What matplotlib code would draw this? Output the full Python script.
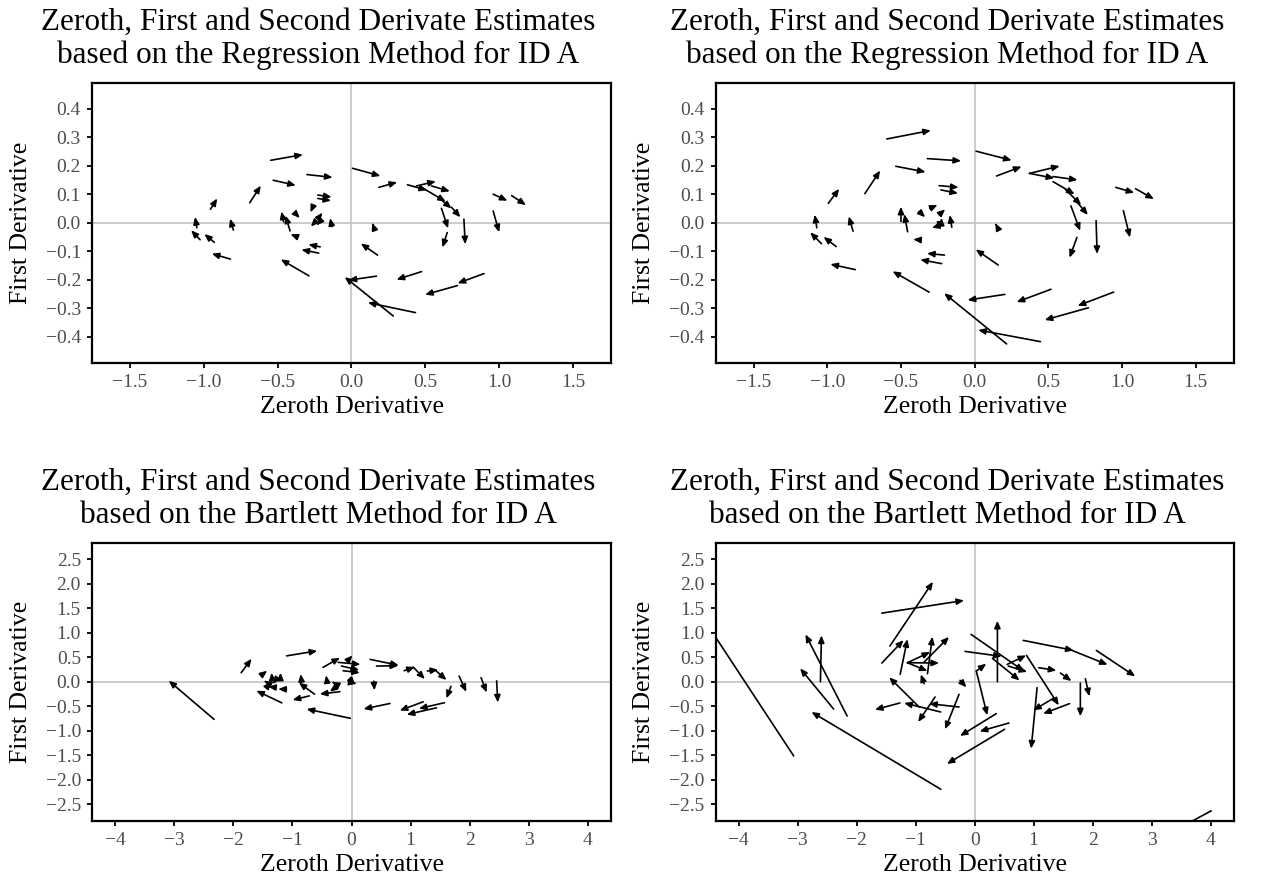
import matplotlib
matplotlib.use("Agg")
import matplotlib.pyplot as plt
from matplotlib.patches import FancyArrowPatch

plt.rcParams['font.family'] = ['Liberation Serif', 'DejaVu Serif']

# ---------------- data: arrow tails (x0, y0) and heads (x1, y1) ----------------
# Regression method, left panel
reg1_x0 = [-0.547, -0.302, -0.530, -0.689, -0.955, -1.047, -1.025, -0.929, -0.820, -0.800,
           -0.288, -0.228, -0.228, -0.212, -0.222, -0.460, -0.416, -0.372, -0.374, -0.268,
           -0.214, -0.133, -0.240, -0.220, 0.007, 0.185, 0.379, 0.440, 0.542, 0.497,
           0.609, 0.677, 0.609, 0.648, 0.761, 0.959, 1.084, 0.959, 0.176, 0.145,
           0.169, 0.474, 0.897, 0.718, 0.433, 0.283]
reg1_y0 = [0.219, 0.169, 0.149, 0.070, 0.047, -0.018, -0.060, -0.069, -0.128, -0.026,
           -0.187, 0.097, 0.085, -0.085, -0.107, 0.003, -0.029, -0.049, 0.029, 0.048,
           0.023, -0.014, 0.006, 0.000, 0.191, 0.124, 0.133, 0.129, 0.129, 0.117,
           0.080, 0.054, 0.050, -0.035, 0.012, 0.100, 0.095, 0.041, -0.114, -0.008,
           -0.188, -0.172, -0.179, -0.221, -0.316, -0.328]
reg1_x1 = [-0.329, -0.128, -0.377, -0.614, -0.909, -1.059, -1.086, -0.996, -0.946, -0.822,
           -0.479, -0.135, -0.138, -0.292, -0.339, -0.474, -0.447, -0.413, -0.350, -0.278,
           -0.196, -0.145, -0.275, -0.238, 0.196, 0.309, 0.512, 0.571, 0.666, 0.638,
           0.677, 0.738, 0.654, 0.616, 0.770, 1.056, 1.181, 1.000, 0.063, 0.140,
           -0.020, 0.305, 0.718, 0.498, 0.111, -0.046]
reg1_y1 = [0.239, 0.159, 0.131, 0.130, 0.085, 0.020, -0.027, -0.040, -0.109, 0.014,
           -0.129, 0.090, 0.077, -0.077, -0.095, 0.039, 0.025, -0.041, 0.016, 0.036,
           0.035, 0.016, -0.014, -0.010, 0.164, 0.142, 0.114, 0.145, 0.110, 0.074,
           0.050, 0.019, -0.020, -0.087, -0.076, 0.077, 0.062, -0.034, -0.073, -0.001,
           -0.202, -0.200, -0.213, -0.253, -0.281, -0.191]

# Regression method, right panel
reg2_x0 = [-0.596, -0.321, -0.535, -0.745, -0.993, -1.071, -1.039, -0.940, -0.810, -0.825,
           -0.309, -0.241, -0.229, -0.205, -0.224, -0.363, -0.500, -0.455, -0.376, -0.304,
           -0.230, -0.155, -0.250, -0.236, -0.226, 0.010, 0.149, 0.372, 0.372, 0.532,
           0.532, 0.615, 0.682, 0.653, 0.694, 0.824, 0.957, 1.092, 1.009, 0.160,
           0.146, 0.205, 0.518, 0.943, 0.772, 0.446, 0.217]
reg2_y0 = [0.294, 0.225, 0.198, 0.102, 0.068, -0.018, -0.074, -0.084, -0.165, -0.030,
           -0.244, 0.130, 0.115, -0.114, -0.144, -0.061, 0.004, -0.032, 0.039, 0.050,
           0.033, -0.016, -0.012, -0.004, -0.002, 0.251, 0.164, 0.173, 0.173, 0.162,
           0.144, 0.117, 0.080, 0.059, -0.052, 0.007, 0.124, 0.119, 0.042, -0.149,
           -0.008, -0.252, -0.234, -0.244, -0.299, -0.418, -0.426]
reg2_x1 = [-0.297, -0.092, -0.333, -0.641, -0.919, -1.085, -1.116, -1.025, -0.979, -0.854,
           -0.557, -0.109, -0.113, -0.323, -0.369, -0.417, -0.500, -0.477, -0.336, -0.252,
           -0.200, -0.169, -0.290, -0.236, -0.225, 0.251, 0.318, 0.577, 0.540, 0.698,
           0.678, 0.723, 0.768, 0.716, 0.644, 0.831, 1.083, 1.216, 1.054, 0.007,
           0.140, -0.048, 0.285, 0.699, 0.475, 0.024, -0.207]
reg2_y1 = [0.324, 0.217, 0.178, 0.183, 0.119, 0.028, -0.034, -0.050, -0.146, 0.022,
           -0.171, 0.124, 0.103, -0.108, -0.130, -0.059, 0.056, 0.030, 0.019, 0.062,
           0.047, 0.027, -0.018, -0.025, 0.017, 0.219, 0.197, 0.199, 0.156, 0.150,
           0.100, 0.062, 0.027, -0.029, -0.123, -0.110, 0.105, 0.083, -0.052, -0.094,
           -0.002, -0.272, -0.279, -0.292, -0.342, -0.377, -0.248]

# Bartlett method, left panel
bart1_x0 = [-2.325, -1.866, -1.099, -0.481, -0.020, -1.180, -0.715, -0.626, -0.848, 0.650,
            1.212, 1.574, 1.437, 0.315, 0.423, 0.891, 1.043, 1.285, 1.409, 1.682,
            1.820, 2.192, 2.455, 0.378, -1.522, -1.342, -1.201, -1.297, -1.099, -1.450,
            -1.380, -1.300, -0.225, -0.169, -0.141, -0.056, 0.040, -0.197, -0.254, -0.420,
            -0.300, 0.030]
bart1_y0 = [-0.769, 0.184, 0.528, 0.293, -0.748, -0.432, -0.290, -0.255, 0.027, -0.445,
            -0.410, -0.429, -0.534, 0.456, 0.320, 0.224, 0.300, 0.218, 0.245, -0.095,
            0.116, 0.082, 0.017, 0.010, 0.136, 0.034, 0.034, -0.116, -0.156, 0.000,
            -0.030, 0.000, 0.395, 0.320, 0.224, 0.442, -0.030, -0.204, -0.102, 0.050,
            -0.020, -0.020]
bart1_x1 = [-3.092, -1.691, -0.580, -0.195, -0.760, -1.610, -0.997, -0.890, -0.860, 0.204,
            0.816, 1.140, 0.933, 0.800, 0.789, 1.071, 1.240, 1.466, 1.607, 1.606,
            1.942, 2.286, 2.475, 0.388, -1.426, -1.353, -1.201, -1.409, -1.240, -1.480,
            -1.360, -1.330, 0.152, 0.130, 0.141, 0.017, 0.085, -0.536, -0.366, -0.430,
            -0.330, 0.060]
bart1_y1 = [0.020, 0.469, 0.630, 0.490, -0.558, -0.184, -0.374, -0.020, 0.156, -0.558,
            -0.590, -0.550, -0.672, 0.335, 0.327, 0.300, 0.054, 0.245, 0.034, -0.340,
            -0.208, -0.221, -0.425, -0.177, 0.224, 0.184, 0.184, -0.102, -0.150, 0.020,
            0.000, -0.050, 0.354, 0.238, 0.184, 0.537, -0.040, -0.252, -0.204, 0.130,
            0.000, -0.060]

# Bartlett method, right panel
bart2_x0 = [-3.068, 4.010, -0.574, -2.391, -2.162, -2.615, -1.573, -1.437, -1.573, -1.263,
            -1.139, -1.139, -1.139, -0.800, -0.857, -0.857, -0.941, -1.268, -0.575, -0.265,
            -0.671, -0.265, -0.248, 0.028, 0.028, 0.386, -0.060, 0.302, -0.163, 0.552,
            0.570, 0.823, 1.651, 2.063, 1.088, 1.454, 1.792, 1.877, 0.879, 1.059,
            1.324, 1.606, 0.366, 0.581, 0.507]
bart2_y0 = [-1.517, -2.639, -2.197, -0.558, -0.701, 0.000, 1.401, 0.728, 0.381, 0.150,
            0.388, 0.388, 0.388, 0.163, 0.401, -0.041, -0.517, -0.435, -0.619, -0.517,
            -0.313, -0.259, 0.027, 0.218, 0.218, 0.000, 0.966, 0.476, 0.619, 0.354,
            0.320, 0.844, 0.639, 0.639, 0.286, 0.177, -0.027, 0.061, 0.537, -0.122,
            -0.347, -0.449, -0.653, -0.844, -0.973]
bart2_x1 = [-4.550, 3.300, -2.766, -2.959, -2.868, -2.597, -0.180, -0.707, -1.206, -1.139,
            -0.755, -0.603, -0.800, -0.716, -0.434, -0.913, -1.449, -1.691, -1.195, -0.772,
            -0.958, -0.502, -0.140, 0.197, 0.214, 0.386, 0.834, 0.761, 0.457, 0.873,
            0.890, 1.679, 2.254, 2.722, 1.386, 1.640, 1.792, 1.944, 1.426, 0.958,
            0.992, 1.161, -0.248, 0.085, -0.471]
bart2_y1 = [1.200, -3.100, -0.619, 0.272, 0.966, 0.946, 1.660, 2.041, 0.850, 0.870,
            0.605, 0.381, 0.218, 0.920, 0.915, 0.150, 0.090, -0.571, -0.435, -0.449,
            -0.823, -0.973, -0.115, 0.367, -0.687, 1.245, 0.218, 0.027, 0.517, 0.537,
            0.200, 0.639, 0.347, 0.109, 0.231, 0.014, -0.707, -0.299, -0.483, -1.367,
            -0.585, -0.653, -1.109, -1.014, -1.680]

reg_title = "Zeroth, First and Second Derivate Estimates\nbased on the Regression Method for ID A"
bart_title = "Zeroth, First and Second Derivate Estimates\nbased on the Bartlett Method for ID A"
x_label = "Zeroth Derivative"
y_label = "First Derivative"

reg_xticks = [-1.5, -1.0, -0.5, 0.0, 0.5, 1.0, 1.5]
reg_yticks = [-0.4, -0.3, -0.2, -0.1, 0.0, 0.1, 0.2, 0.3, 0.4]
bart_xticks = [-4, -3, -2, -1, 0, 1, 2, 3, 4]
bart_yticks = [-2.5, -2.0, -1.5, -1.0, -0.5, 0.0, 0.5, 1.0, 1.5, 2.0, 2.5]

# ---------------- figure ----------------
W, H = 1263, 882
fig = plt.figure(figsize=(W / 100, H / 100), dpi=100)


def add_panel(left, top, right, bottom):
    return fig.add_axes([left / W, 1 - bottom / H, (right - left) / W, (bottom - top) / H])


def draw_panel(ax, x0, y0, x1, y1, xlim, ylim, xticks, yticks, xfmt, yfmt):
    ax.set_xlim(*xlim)
    ax.set_ylim(*ylim)
    ax.axhline(0, color='#BEBEBE', lw=1.1, zorder=1)
    ax.axvline(0, color='#BEBEBE', lw=1.1, zorder=1)
    for a, b, c, d in zip(x0, y0, x1, y1):
        arr = FancyArrowPatch((a, b), (c, d), arrowstyle='-|>,head_length=4.2,head_width=1.8',
                              mutation_scale=1, lw=1.2, color='black',
                              shrinkA=0, shrinkB=0, zorder=3)
        ax.add_patch(arr)
    ax.set_xticks(xticks)
    ax.set_yticks(yticks)
    ax.set_xticklabels([xfmt.format(v).replace('-', '\u2212') for v in xticks])
    ax.set_yticklabels([yfmt.format(v).replace('-', '\u2212') for v in yticks])
    ax.tick_params(axis='both', which='major', length=3.5, width=1.3, color='black',
                   labelcolor='#4D4D4D', labelsize=14, pad=4.5)
    for s in ax.spines.values():
        s.set_linewidth(1.6)
        s.set_color('black')
    ax.set_xlabel(x_label, fontsize=18.5, color='black', labelpad=4)
    ax.set_ylabel(y_label, fontsize=18.5, color='black', labelpad=10)


reg_xlim = (-1.757, 1.757)
reg_ylim = (-0.492, 0.492)
bart_xlim = (-4.39, 4.39)
bart_ylim = (-2.84, 2.84)

ax1 = add_panel(92, 82.6, 611, 362.7)
draw_panel(ax1, reg1_x0, reg1_y0, reg1_x1, reg1_y1, reg_xlim, reg_ylim,
           reg_xticks, reg_yticks, '{:.1f}', '{:.1f}')
ax2 = add_panel(715.7, 82.6, 1233.6, 362.7)
draw_panel(ax2, reg2_x0, reg2_y0, reg2_x1, reg2_y1, reg_xlim, reg_ylim,
           reg_xticks, reg_yticks, '{:.1f}', '{:.1f}')
ax3 = add_panel(92, 542.7, 611, 820.7)
draw_panel(ax3, bart1_x0, bart1_y0, bart1_x1, bart1_y1, bart_xlim, bart_ylim,
           bart_xticks, bart_yticks, '{:d}', '{:.1f}')
ax4 = add_panel(715.7, 542.7, 1233.6, 820.7)
draw_panel(ax4, bart2_x0, bart2_y0, bart2_x1, bart2_y1, bart_xlim, bart_ylim,
           bart_xticks, bart_yticks, '{:d}', '{:.1f}')

for cx, cy, t in [(318, 39, reg_title), (947, 39, reg_title),
                  (318, 499, bart_title), (947, 499, bart_title)]:
    fig.text(cx / W, 1 - cy / H, t, ha='center', va='center', fontsize=22.5,
             linespacing=1.2, color='black')

fig.savefig('out.png', dpi=100)
